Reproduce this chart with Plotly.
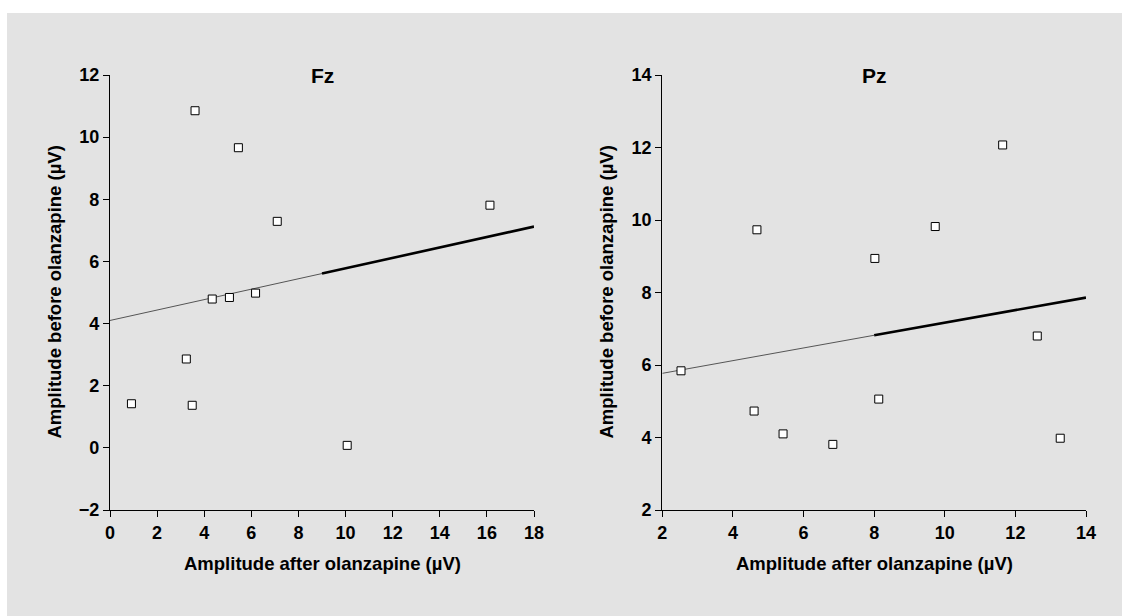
import plotly.graph_objects as go

# Fz data (after, before)
fz_after = [3.61, 5.45, 7.10, 16.13, 4.34, 5.07, 6.18, 3.24, 0.91, 3.49, 10.07]
fz_before = [10.85, 9.66, 7.29, 7.81, 4.79, 4.84, 4.98, 2.86, 1.42, 1.37, 0.08]
fz_fit_x = [0, 9, 18]
fz_fit_y = [4.10, 5.61, 7.12]

# Pz data
pz_after = [2.53, 4.68, 8.02, 9.73, 11.64, 12.62, 4.60, 5.42, 6.83, 8.13, 13.27]
pz_before = [5.84, 9.73, 8.94, 9.82, 12.07, 6.80, 4.73, 4.10, 3.81, 5.06, 3.98]
pz_fit_x = [2, 8, 14]
pz_fit_y = [5.77, 6.82, 7.86]

titles = ["Fz", "Pz"]
x_title = "Amplitude after olanzapine (µV)"
y_title = "Amplitude before olanzapine (µV)"

W, H = 1122, 616
BG = "#e3e3e3"
FONT = "Liberation Sans, Arial, sans-serif"

fig = go.Figure()

def add_panel(xs, ys, fx, fy, xa, ya):
    fig.add_trace(go.Scatter(x=fx[:2], y=fy[:2], mode="lines",
                             line=dict(color="#555555", width=1),
                             xaxis=xa, yaxis=ya, showlegend=False, hoverinfo="skip"))
    fig.add_trace(go.Scatter(x=fx[1:], y=fy[1:], mode="lines",
                             line=dict(color="black", width=2.6),
                             xaxis=xa, yaxis=ya, showlegend=False, hoverinfo="skip"))
    fig.add_trace(go.Scatter(x=xs, y=ys, mode="markers",
                             marker=dict(symbol="square", size=8, color="white",
                                         line=dict(color="black", width=1)),
                             xaxis=xa, yaxis=ya, showlegend=False))

add_panel(fz_after, fz_before, fz_fit_x, fz_fit_y, "x", "y")
add_panel(pz_after, pz_before, pz_fit_x, pz_fit_y, "x2", "y2")

def px_x(p):
    return p / W

def px_y(p):
    return 1 - p / H

ydom = [px_y(510), px_y(75)]
axis_common = dict(showline=True, linecolor="black", linewidth=1.2, ticks="outside",
                   ticklen=6, tickwidth=1.2, tickcolor="black", showgrid=False,
                   zeroline=False, dtick=2, mirror=False, automargin=False,
                   tickfont=dict(family=FONT, size=18, color="black", weight="bold"))

fig.update_layout(
    width=W, height=H,
    margin=dict(l=0, r=0, t=0, b=0, pad=0, autoexpand=False),
    paper_bgcolor=BG, plot_bgcolor=BG,
    xaxis=dict(domain=[px_x(110), px_x(534)], range=[0, 18], anchor="y", **axis_common),
    yaxis=dict(domain=ydom, range=[-2, 12], anchor="x", **axis_common),
    xaxis2=dict(domain=[px_x(662.3), px_x(1086)], range=[2, 14], anchor="y2", **axis_common),
    yaxis2=dict(domain=ydom, range=[2, 14], anchor="x2", **axis_common),
)

# white border at top and left
fig.add_shape(type="rect", xref="paper", yref="paper", x0=0, x1=1, y0=px_y(13), y1=1,
              fillcolor="white", line=dict(width=0), layer="below")
fig.add_shape(type="rect", xref="paper", yref="paper", x0=0, x1=px_x(7), y0=0, y1=1,
              fillcolor="white", line=dict(width=0), layer="below")

panels = [(110, 534, 54), (662.3, 1086, 606)]
for (x0, x1, ytx), t in zip(panels, titles):
    cx = px_x((x0 + x1) / 2)
    fig.add_annotation(x=cx, y=px_y(76), xref="paper", yref="paper", text="<b>%s</b>" % t,
                       showarrow=False, font=dict(family=FONT, size=21, color="black"),
                       xanchor="center", yanchor="middle")
    fig.add_annotation(x=cx, y=px_y(563), xref="paper", yref="paper", text=x_title,
                       showarrow=False, font=dict(family=FONT, size=18.5, color="black", weight=600),
                       xanchor="center", yanchor="middle")
    fig.add_annotation(x=px_x(ytx), y=px_y(292.5), xref="paper", yref="paper", text=y_title,
                       textangle=-90, showarrow=False,
                       font=dict(family=FONT, size=18.5, color="black", weight=600),
                       xanchor="center", yanchor="middle")

fig.write_html("out.html",
               post_script="document.body.style.margin='0';document.body.style.overflow='hidden';")
